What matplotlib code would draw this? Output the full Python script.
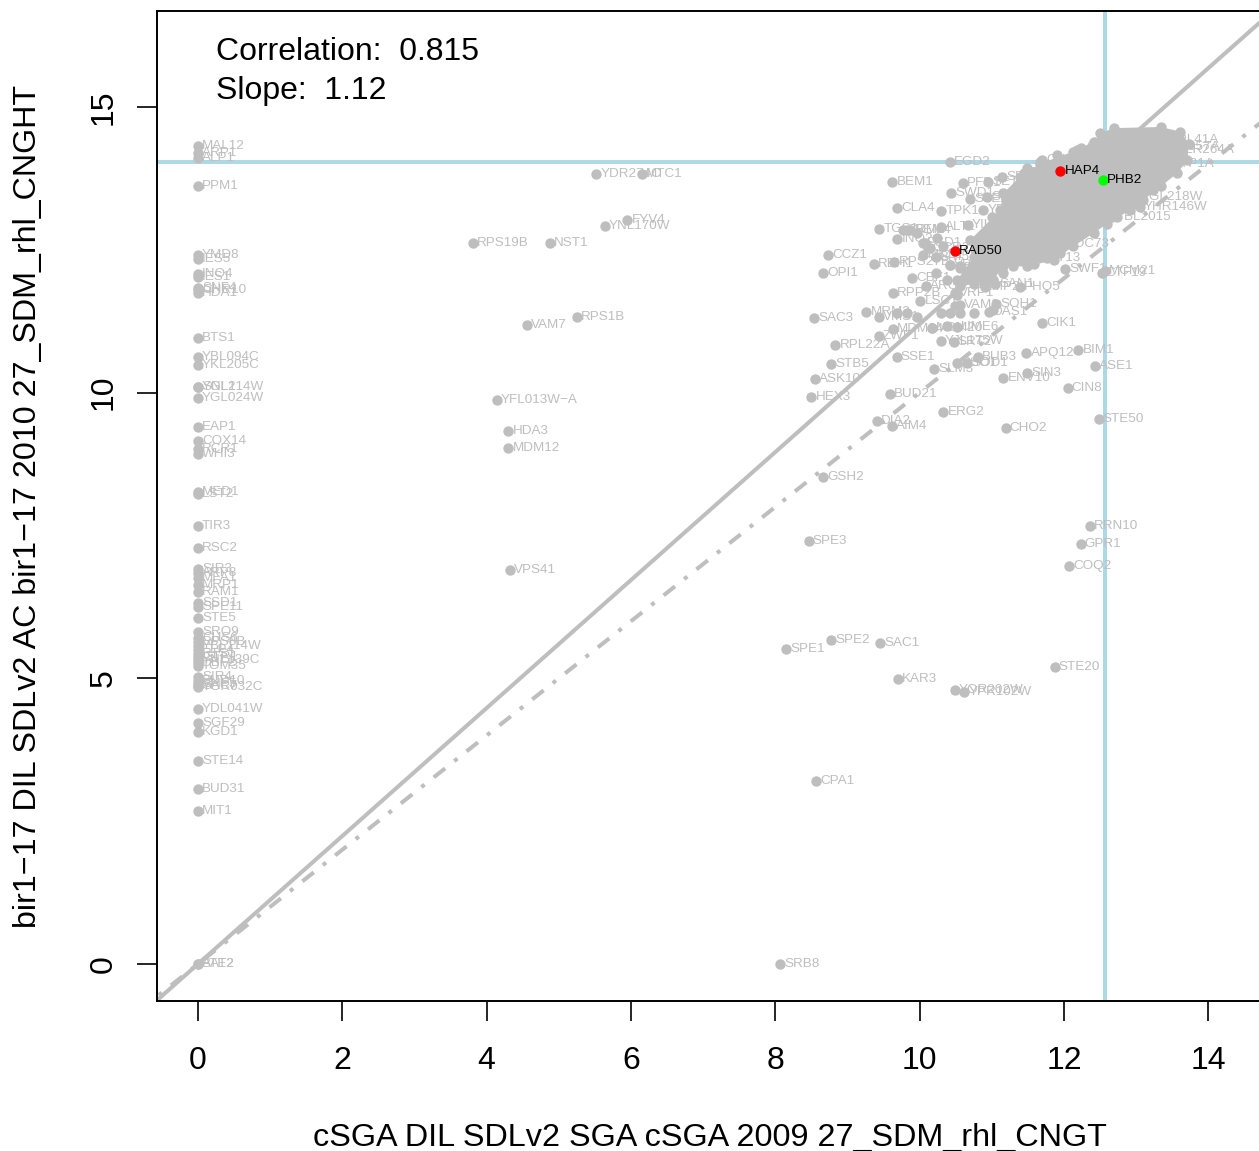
import matplotlib
matplotlib.use('Agg')
import matplotlib.pyplot as plt

plt.rcParams['font.family'] = ['Liberation Sans', 'DejaVu Sans']

# genes that are missing in the first screen, they all sit at x = 0
zero_names = ['MAL12', 'ARP1', 'ALP1', 'PPM1', 'YMD8', 'IES5', 'INO4', 'IES1', 'SNF4', 'CHR10',
              'HDA1', 'BTS1', 'YBL094C', 'YKL205C', 'SNL1', 'YGL214W', 'YGL024W', 'EAP1', 'COX14',
              'RCR1', 'WHI3', 'MED1', 'LST2', 'TIR3', 'RSC2', 'SIR3', 'ARP8', 'MFA1', 'MRP1',
              'RAM1', 'SSD1', 'SPE11', 'STE5', 'SRO9', 'CHS6', 'RPS8B', 'YBL114W', 'ELP4', 'RTS1',
              'GTR1', 'YNL139C', 'DBF2', 'TOM35', 'SIR4', 'BUD10', 'SNF5', 'SAC7', 'YGR032C',
              'YDL041W', 'SGF29', 'KGD1', 'STE14', 'BUD31', 'MIT1', 'BAT2', 'ATE2']
zero_y = [14.32, 14.20, 14.11, 13.62, 12.41, 12.34, 12.08, 12.03, 11.83, 11.80,
          11.75, 10.96, 10.62, 10.49, 10.10, 10.10, 9.91, 9.40, 9.15,
          9.01, 8.93, 8.26, 8.22, 7.67, 7.28, 6.91, 6.84, 6.76, 6.63,
          6.51, 6.32, 6.25, 6.06, 5.81, 5.71, 5.64, 5.57, 5.50, 5.43,
          5.37, 5.32, 5.27, 5.22, 5.02, 4.95, 4.90, 4.87, 4.85,
          4.46, 4.22, 4.06, 3.55, 3.06, 2.68, 0.0, 0.0]

gene_names = ['YDR274C', 'MTC1', 'FYV4', 'YNL170W', 'RPS19B', 'NST1', 'VAM7', 'RPS1B', 'YFL013W\u2212A',
              'HDA3', 'MDM12', 'VPS41', 'GSH2', 'SPE3', 'SPE1', 'SPE2', 'SAC1', 'KAR3', 'YOR202W',
              'YPR102W', 'CPA1', 'SRB8', 'RRN10', 'GPR1', 'COQ2', 'STE20', 'STE50', 'CHO2', 'ERG2',
              'DIA2', 'AIM4', 'HEX3', 'BUD21', 'ASK10', 'STB5', 'RPL22A', 'SSE1', 'SLM3', 'ZWF1',
              'SAC3', 'OPI1', 'CCZ1', 'REH1', 'BEM1', 'CLA4', 'TPK1', 'EGD2', 'SWD1', 'TGS1',
              'INO2', 'RPS27B', 'CBF1', 'ARG2', 'RPP2B', 'LSC1', 'VRP1', 'VAM2', 'SOH1', 'DAS1',
              'MRM2', 'VMS1', 'MDM34', 'MDM20', 'UME6', 'YJL175W', 'SRT2', 'BUB3', 'SOD1', 'SSO1',
              'ENV10', 'SIN3', 'APQ12', 'BIM1', 'ASE1', 'CIN8', 'CIK1', 'PHO5', 'SWF1', 'CTF19',
              'MCM21', 'PFD1', 'SET1', 'SEC28', 'TFA1', 'STE24', 'SLX5', 'YDL118W', 'YPL205C',
              'YIL039W', 'ALT1', 'SRM1', 'BEM4', 'PSD1', 'GCR2', 'MKS1', 'BNI5', 'VPS9', 'PEX6',
              'CUP9', 'ARL3', 'CDC73', 'SPT13', 'YBL2015', 'YGL218W', 'YHR146W', 'RPL41A',
              'YOL057A', 'YLR264A', 'ATP1A', 'SAN1', 'IMP2']
gene_x = [5.52, 6.15, 5.95, 5.64, 3.81, 4.88, 4.56, 5.25, 4.14,
          4.30, 4.30, 4.32, 8.66, 8.46, 8.15, 8.77, 9.45, 9.70, 10.49,
          10.62, 8.57, 8.07, 12.36, 12.23, 12.07, 11.87, 12.48, 11.19, 10.33,
          9.41, 9.62, 8.50, 9.59, 8.55, 8.77, 8.83, 9.68, 10.20, 9.43,
          8.54, 8.66, 8.73, 9.37, 9.62, 9.69, 10.30, 10.42, 10.44, 9.44,
          9.69, 9.65, 9.90, 10.09, 9.63, 10.01, 10.49, 10.56, 11.06, 10.96,
          9.26, 9.43, 9.63, 10.17, 10.52, 10.29, 10.47, 10.81, 10.66, 10.52,
          11.16, 11.49, 11.48, 12.20, 12.43, 12.05, 11.70, 11.39, 12.02, 12.52,
          12.57, 10.60, 10.95, 11.14, 11.44, 10.70, 10.94, 10.88, 11.00,
          10.67, 10.29, 9.77, 9.87, 10.04, 10.12, 10.05, 10.22, 10.42, 10.56,
          11.70, 12.23, 11.96, 11.60, 12.66, 13.00, 13.05, 13.40,
          13.30, 13.50, 13.45, 11.05, 10.90]
gene_y = [13.83, 13.83, 13.02, 12.92, 12.62, 12.62, 11.19, 11.33, 9.87,
          9.33, 9.03, 6.90, 8.52, 7.40, 5.51, 5.67, 5.62, 4.99, 4.80,
          4.76, 3.20, 0.0, 7.67, 7.35, 6.97, 5.20, 9.54, 9.38, 9.66,
          9.50, 9.42, 9.92, 9.98, 10.24, 10.50, 10.83, 10.62, 10.41, 10.99,
          11.31, 12.10, 12.41, 12.25, 13.69, 13.23, 13.18, 14.04, 13.50, 12.87,
          12.69, 12.29, 12.01, 11.87, 11.75, 11.61, 11.75, 11.54, 11.55, 11.41,
          11.41, 11.32, 11.12, 11.13, 11.15, 10.90, 10.89, 10.62, 10.52, 10.52,
          10.26, 10.34, 10.69, 10.75, 10.47, 10.08, 11.22, 11.85, 12.17, 12.10,
          12.13, 13.67, 13.69, 13.78, 13.85, 13.39, 13.43, 13.20, 13.08,
          12.94, 12.90, 12.85, 12.85, 12.62, 12.53, 12.41, 12.38, 12.23, 12.18,
          14.07, 14.28, 12.60, 12.35, 13.08, 13.42, 13.25, 14.42,
          14.30, 14.25, 14.00, 11.90, 11.85]

# outline of the solid part of the big cloud in the top right
cloud_x = [12.50, 12.69, 13.34, 13.61, 13.73, 13.71, 13.57, 13.34, 13.10, 12.92, 12.60, 12.41, 12.13,
           11.86, 11.49, 11.16, 11.02, 10.56, 10.52, 10.75, 10.70, 11.12, 11.16, 11.39, 11.67, 12.13, 12.41]
cloud_y = [14.54, 14.63, 14.65, 14.57, 14.36, 14.07, 13.84, 13.61, 13.37, 13.20, 12.96, 12.79, 12.56,
           12.32, 12.21, 12.21, 11.97, 11.86, 11.97, 12.38, 12.67, 13.20, 13.49, 13.78, 14.01, 14.22, 14.39]

# unlabelled points around the edge of the cloud
fringe_x = [10.24, 10.15, 10.33, 10.56, 10.42, 10.22, 10.38, 10.56, 10.75, 10.89, 11.02, 11.16, 11.30,
            11.39, 11.58, 11.76, 11.95, 11.12, 10.79, 10.77, 10.52, 10.49, 10.56, 10.75, 9.82, 9.96,
            10.29, 10.42, 11.02, 9.69, 10.17, 10.38, 9.82, 9.96, 10.08, 11.67, 11.49, 11.90, 12.18,
            13.24, 13.01, 12.73]
fringe_y = [12.70, 12.53, 12.56, 12.21, 12.24, 12.09, 11.97, 11.89, 11.91, 11.91, 11.97, 12.09, 12.21,
            12.32, 12.26, 12.35, 12.44, 12.26, 12.15, 12.50, 11.71, 11.51, 11.39, 11.39, 11.39, 11.33,
            11.39, 11.39, 11.45, 11.39, 11.13, 11.16, 12.85, 12.79, 12.62, 14.04, 13.93, 14.16, 14.25,
            13.55, 13.31, 13.08]

red_names = ['HAP4', 'RAD50']
red_x = [11.95, 10.49]
red_y = [13.88, 12.48]
green_names = ['PHB2']
green_x = [12.54]
green_y = [13.72]

x_ticks = [0, 2, 4, 6, 8, 10, 12, 14]
y_ticks = [0, 5, 10, 15]
cutoff_x = 12.57
cutoff_y = 14.04
slope = 1.12
correlation = 0.815

GRAY = '#BEBEBE'
W, H = 1259, 1151

fig = plt.figure(figsize=(W / 100, H / 100), dpi=100)
ax = fig.add_axes([157 / W, 1 - 1001 / H, (W - 157 + 2) / W, (1001 - 11) / H])
ax.set_xlim(-0.568, 14.73)
ax.set_ylim(-0.648, 16.68)

# reference lines
ax.axvline(cutoff_x, color='lightblue', lw=2.9, zorder=1)
ax.axhline(cutoff_y, color='lightblue', lw=2.9, zorder=1)
line_x = [-1, 16]
ax.plot(line_x, [v * slope for v in line_x], color=GRAY, lw=2.9, zorder=2, solid_capstyle='butt')
ax.plot(line_x, line_x, color=GRAY, lw=2.9, zorder=2, dash_capstyle='butt',
        linestyle=(0, (1, 2.9, 3.6, 2.9)))

# points
ax.fill(cloud_x, cloud_y, color=GRAY, lw=0, zorder=3)
ax.scatter(cloud_x, cloud_y, s=56, color=GRAY, lw=0, zorder=3)
ax.scatter(fringe_x, fringe_y, s=56, color=GRAY, lw=0, zorder=3)
ax.scatter([0] * len(zero_y), zero_y, s=56, color=GRAY, lw=0, zorder=3)
ax.scatter(gene_x, gene_y, s=56, color=GRAY, lw=0, zorder=3)
ax.scatter(red_x, red_y, s=56, color='red', lw=0, zorder=5)
ax.scatter(green_x, green_y, s=56, color='#00FF00', lw=0, zorder=5)


def add_labels(names, xs, ys, color, zorder=4):
    for name, x, y in zip(names, xs, ys):
        ax.annotate(name, (x, y), xytext=(3, 0), textcoords='offset points', fontsize=9.7,
                    color=color, va='center', ha='left', zorder=zorder, clip_on=True,
                    annotation_clip=True)


add_labels(zero_names, [0] * len(zero_y), zero_y, GRAY)
add_labels(gene_names, gene_x, gene_y, GRAY)
add_labels(red_names, red_x, red_y, 'black', 6)
add_labels(green_names, green_x, green_y, 'black', 6)

# axes
for spine in ax.spines.values():
    spine.set_linewidth(1.4)
ax.set_xticks(x_ticks)
ax.set_yticks(y_ticks)
ax.tick_params(axis='x', length=14.4, width=1.2, labelsize=23, pad=18)
ax.tick_params(axis='y', length=14.4, width=1.2, labelsize=23, pad=13)
for label in ax.get_yticklabels():
    label.set_rotation(90)
    label.set_va('center')

fig.text(710 / W, 1 - 1138 / H, 'cSGA DIL SDLv2 SGA cSGA 2009 27_SDM_rhl_CNGT', fontsize=23.3,
         ha='center', va='center')
fig.text(28.5 / W, 1 - 506 / H, 'bir1\u221217 DIL SDLv2 AC bir1\u221217 2010 27_SDM_rhl_CNGHT', fontsize=23.2,
         rotation=90, ha='center', va='center')

ax.text(0.25, 15.97, f'Correlation:  {correlation}', fontsize=23, va='center', ha='left')
ax.text(0.25, 15.28, f'Slope:  {slope}', fontsize=23, va='center', ha='left')

fig.savefig('out.png', dpi=100)
